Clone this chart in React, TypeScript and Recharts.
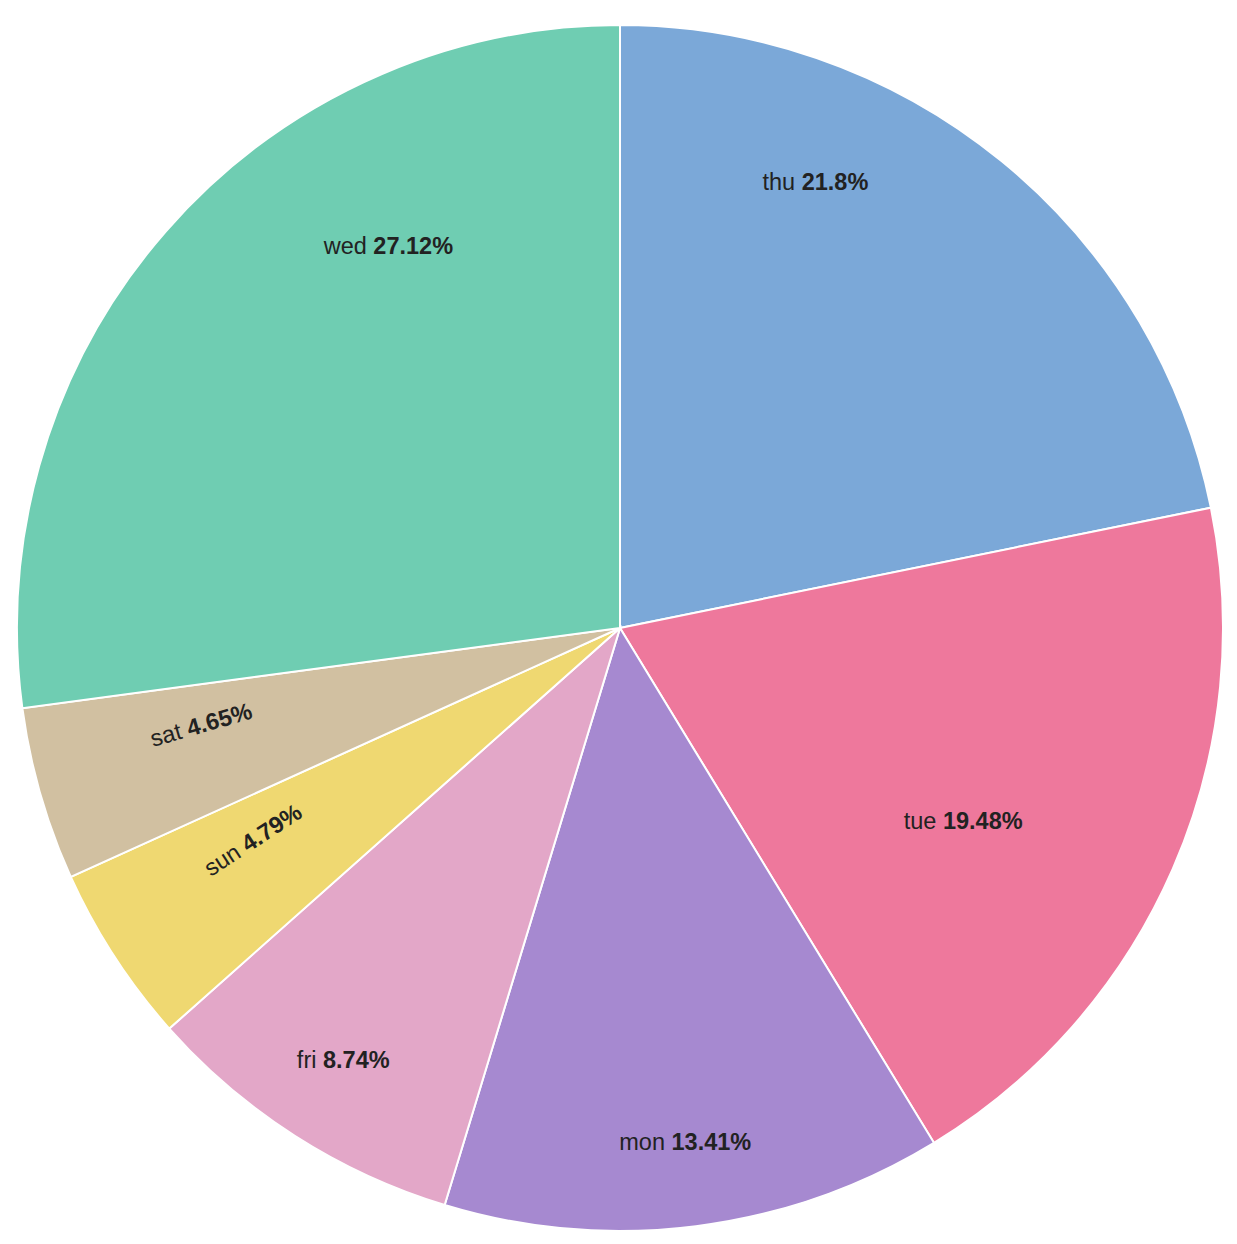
import React from "react";
import { Cell, Pie, PieChart } from "recharts";

// weekday share, clockwise from 12 o'clock
const days = ["thu", "tue", "mon", "fri", "sun", "sat", "wed"];
const shares = [21.8, 19.48, 13.41, 8.74, 4.79, 4.65, 27.12];
const colors = ["#7ba8d8", "#ee789c", "#a689d0", "#e3a7c8", "#efd871", "#d1c0a1", "#6fcdb2"];

// label placement tweaks (angle shift in degrees, radius as share of outer radius)
const labelShift = [15.6, -5.8, 0, 0, -3, -3, -17.6];
const labelRadius = [0.808, 0.653, 0.859, 0.851, 0.703, 0.713, 0.741];

const chartData = days.map((d, i) => ({ name: d, value: shares[i] }));

const RAD = Math.PI / 180;

const renderLabel = (props: any) => {
  const { cx, cy, midAngle, outerRadius, index, name, value } = props;
  const ang = midAngle + labelShift[index];
  const r = outerRadius * labelRadius[index];
  const x = cx + r * Math.cos(-ang * RAD);
  const y = cy + r * Math.sin(-ang * RAD);
  let rot = 0;
  if (value < 6) {
    rot = -midAngle;
    while (rot > 90) rot -= 180;
    while (rot <= -90) rot += 180;
  }
  return (
    <text
      x={x}
      y={y}
      textAnchor="middle"
      dominantBaseline="central"
      fill="#222"
      fontSize={23.5}
      fontFamily="'Liberation Sans', Arial, sans-serif"
      transform={rot ? `rotate(${rot} ${x} ${y})` : undefined}
    >
      <tspan>{name} </tspan>
      <tspan fontWeight="bold">{value}%</tspan>
    </text>
  );
};

export default function App() {
  return (
    <PieChart width={1229} height={1236}>
      <Pie
        data={chartData}
        dataKey="value"
        nameKey="name"
        cx={607}
        cy={615}
        outerRadius={603}
        startAngle={90}
        endAngle={-270}
        stroke="#fff"
        strokeWidth={2}
        labelLine={false}
        label={renderLabel}
        isAnimationActive={false}
      >
        {chartData.map((entry, index) => (
          <Cell key={`cell-${index}`} fill={colors[index]} />
        ))}
      </Pie>
    </PieChart>
  );
}
